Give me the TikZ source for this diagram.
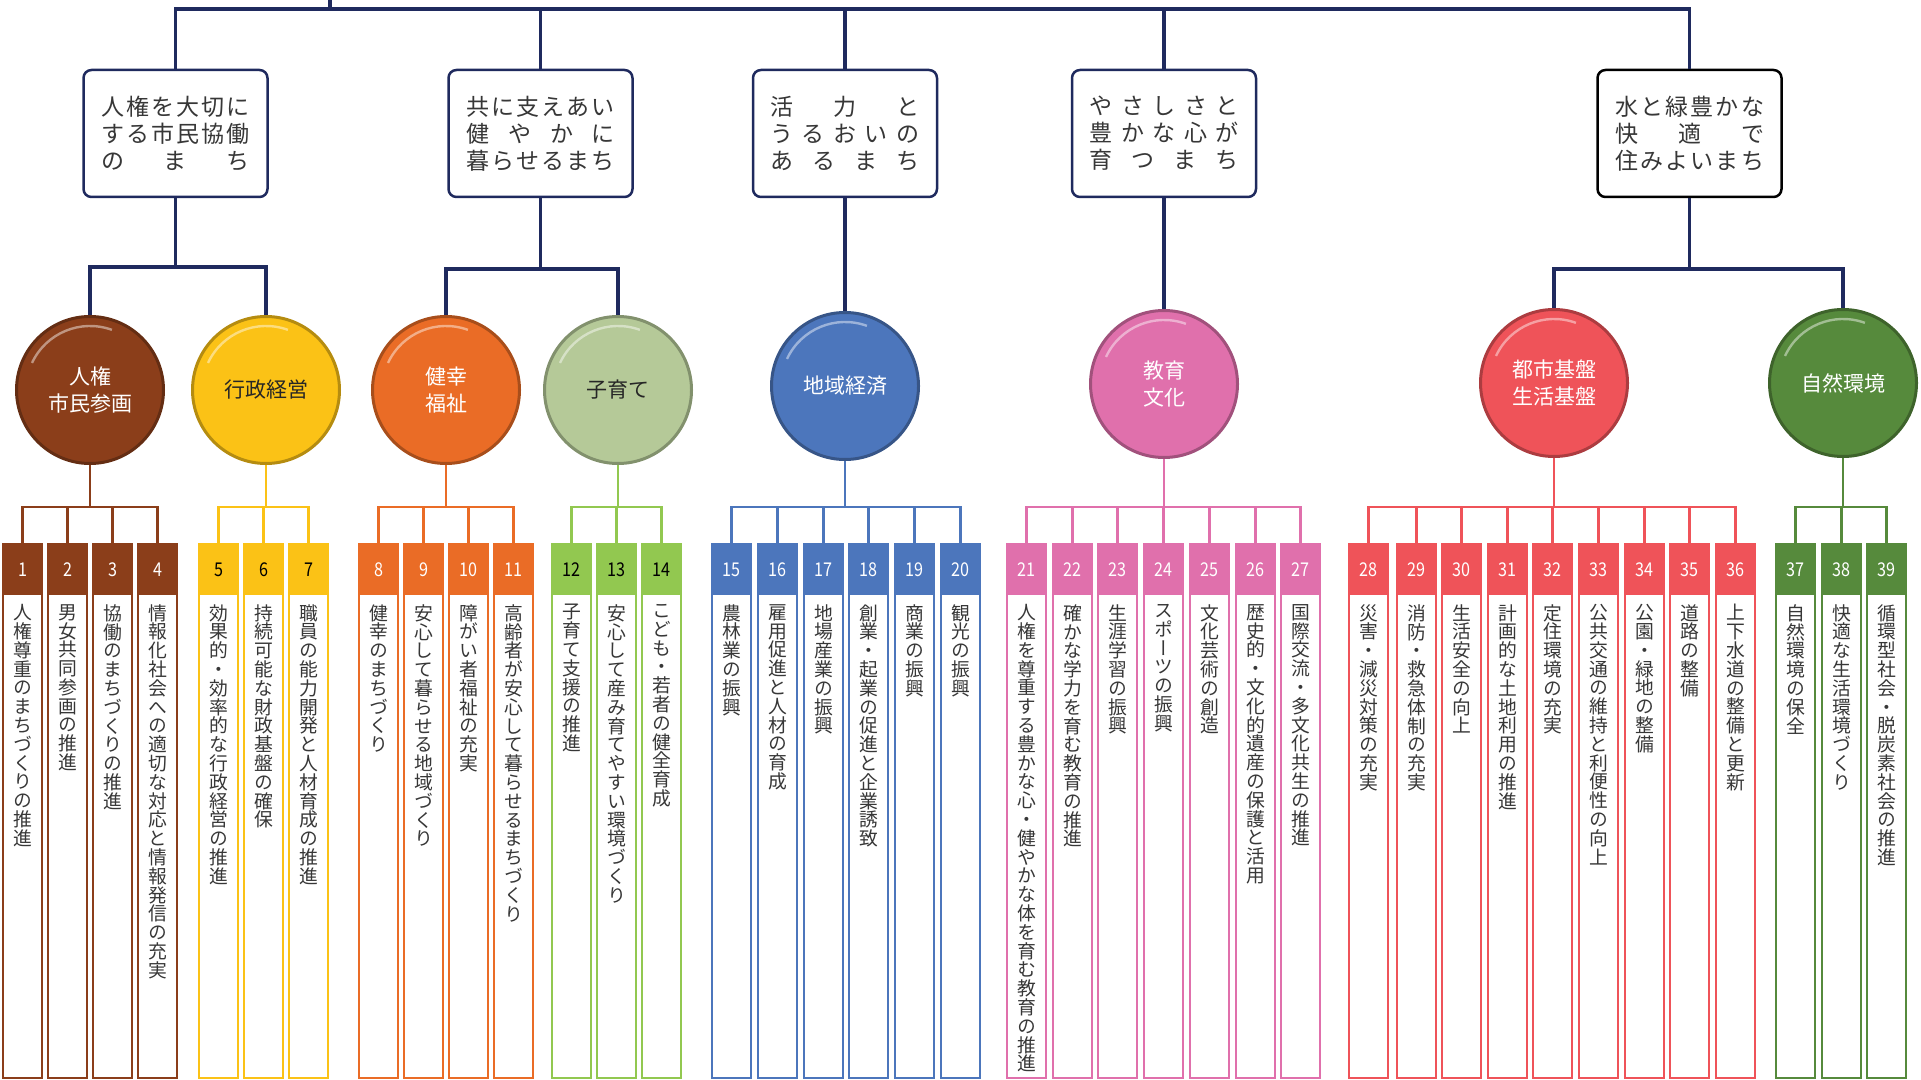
\documentclass[tikz,border=0pt]{standalone}
\usepackage{graphicx}
\usepackage{fontspec}
\setmainfont{Noto Sans CJK JP}
\newfontfamily\tatefont[RawFeature=+vert]{Noto Sans CJK JP}
\usetikzlibrary{calc}

\definecolor{navy}{RGB}{31,42,94}
\definecolor{txtgray}{RGB}{55,55,55}
\definecolor{jinken}{RGB}{139,62,26}
\definecolor{gyosei}{RGB}{251,194,22}
\definecolor{kenko}{RGB}{234,108,38}
\definecolor{kosodate}{RGB}{146,200,80}
\definecolor{kosodateC}{RGB}{181,201,152}
\definecolor{keizai}{RGB}{76,118,188}
\definecolor{kyoiku}{RGB}{224,112,172}
\definecolor{toshi}{RGB}{239,83,89}
\definecolor{shizen}{RGB}{86,138,60}

\makeatletter
\newcommand\spreadline[1]{\makebox[74.5pt][s]{\let\sp@sep\relax\@tfor\sp@ch:=#1\do{\sp@sep\sp@ch\let\sp@sep\hfil}}}
\newcommand\tate[1]{\expandafter\tate@i\expandafter{#1}}
\newcommand\tate@i[1]{\vbox{\baselineskip=9.4pt\lineskiplimit=-\maxdimen\lineskip=0pt\@tfor\sp@ch:=#1\do{\hbox to 9.4pt{\hss\sp@ch\hss}}}}
\makeatother

\begin{document}
\begin{tikzpicture}[x=0.5pt,y=-0.5pt,
  vision/.style={draw=navy, line width=1.25pt, rounded corners=4pt, fill=white, minimum width=92pt, minimum height=63.5pt, inner sep=0pt, align=center, text=txtgray, font=\fontsize{11.5}{13.5}\selectfont},
  goal/.style={circle, fill=#1, draw=#1!72!black, line width=1.5pt, minimum size=73.5pt, inner sep=0pt, align=center, text=white, font=\fontsize{10.5}{13.5}\selectfont},
  pbox/.style={draw=#1, line width=1pt, fill=white, minimum width=19.5pt, minimum height=267pt, inner sep=0pt},
  navyline/.style={draw=navy, line width=1.6pt},
  branch/.style={draw=#1, line width=1.2pt}]
\useasboundingbox (0,0) rectangle (1921,1080);

\node[vision] (v1) at (175.5,133.5) {\spreadline{人権を大切に}\\\spreadline{する市民協働}\\\spreadline{のまち}};
\node[vision] (v2) at (540.5,133.5) {\spreadline{共に支えあい}\\\spreadline{健やかに}\\\spreadline{暮らせるまち}};
\node[vision] (v3) at (845,133.5) {\spreadline{活力と}\\\spreadline{うるおいの}\\\spreadline{あるまち}};
\node[vision] (v4) at (1164,133.5) {\spreadline{やさしさと}\\\spreadline{豊かな心が}\\\spreadline{育つまち}};
\node[vision, draw=black] (v5) at (1689.5,133.5) {\spreadline{水と緑豊かな}\\\spreadline{快適で}\\\spreadline{住みよいまち}};

\node[goal=jinken] (c1) at (90,390) {人権\\市民参画};
\node[goal=gyosei, text=black!85] (c2) at (266,390) {行政経営};
\node[goal=kenko] (c3) at (446,390) {健幸\\福祉};
\node[goal=kosodateC, text=black!85] (c4) at (618,390) {子育て};
\node[goal=keizai] (c5) at (845,386) {地域経済};
\node[goal=kyoiku] (c6) at (1164,384) {教育\\文化};
\node[goal=toshi] (c7) at (1554,383) {都市基盤\\生活基盤};
\node[goal=shizen] (c8) at (1843,383) {自然環境};
\foreach \g in {1,...,8}
  \draw[white, opacity=.45, line width=1.2pt] ([shift={(155:32pt)}]c\g.center) arc[start angle=155, end angle=70, radius=32pt];

% tree above the goals
\coordinate (root) at (330,0);
\coordinate (rootj) at (330,9);
\draw[navyline] (root) -- (rootj);
\draw[navyline] (v1.north) |- (rootj) -| (v5.north);
\foreach \v in {2,3,4}
  \draw[navyline] (v\v.north) -- (v\v.north |- rootj);
\draw[navyline] (v1.south) -- (v1.south |- 0,267) coordinate (j1);
\draw[navyline] (c1.north) |- (j1) -| (c2.north);
\draw[navyline] (v2.south) -- (v2.south |- 0,269) coordinate (j2);
\draw[navyline] (c3.north) |- (j2) -| (c4.north);
\draw[navyline] (v3.south) -- (c5.north);
\draw[navyline] (v4.south) -- (c6.north);
\draw[navyline] (v5.south) -- (v5.south |- 0,269) coordinate (j5);
\draw[navyline] (c7.north) |- (j5) -| (c8.north);

% policies
\foreach \n/\x/\c/\k/\t in {
  1/22.5/jinken/white/人権尊重のまちづくりの推進,
  2/67.5/jinken/white/男女共同参画の推進,
  3/112.5/jinken/white/協働のまちづくりの推進,
  4/157.5/jinken/white/情報化社会への適切な対応と情報発信の充実,
  5/218.5/gyosei/black/効果的・効率的な行政経営の推進,
  6/263.5/gyosei/black/持続可能な財政基盤の確保,
  7/308.5/gyosei/black/職員の能力開発と人材育成の推進,
  8/378.5/kenko/white/健幸のまちづくり,
  9/423.5/kenko/white/安心して暮らせる地域づくり,
  10/468.5/kenko/white/障がい者福祉の充実,
  11/513.5/kenko/white/高齢者が安心して暮らせるまちづくり,
  12/571.5/kosodate/black/子育て支援の推進,
  13/616.5/kosodate/black/安心して産み育てやすい環境づくり,
  14/661.5/kosodate/black/こども・若者の健全育成,
  15/731.5/keizai/white/農林業の振興,
  16/777.5/keizai/white/雇用促進と人材の育成,
  17/823.5/keizai/white/地場産業の振興,
  18/868.5/keizai/white/創業・起業の促進と企業誘致,
  19/914.5/keizai/white/商業の振興,
  20/960.5/keizai/white/観光の振興,
  21/1026.5/kyoiku/white/人権を尊重する豊かな心・健やかな体を育む教育の推進,
  22/1072.5/kyoiku/white/確かな学力を育む教育の推進,
  23/1117.5/kyoiku/white/生涯学習の振興,
  24/1163.5/kyoiku/white/スポーツの振興,
  25/1209.5/kyoiku/white/文化芸術の創造,
  26/1255.5/kyoiku/white/歴史的・文化的遺産の保護と活用,
  27/1300.5/kyoiku/white/国際交流・多文化共生の推進,
  28/1368.5/toshi/white/災害・減災対策の充実,
  29/1416.5/toshi/white/消防・救急体制の充実,
  30/1461.5/toshi/white/生活安全の向上,
  31/1507.5/toshi/white/計画的な土地利用の推進,
  32/1552.5/toshi/white/定住環境の充実,
  33/1598.5/toshi/white/公共交通の維持と利便性の向上,
  34/1644.5/toshi/white/公園・緑地の整備,
  35/1689.5/toshi/white/道路の整備,
  36/1735.5/toshi/white/上下水道の整備と更新,
  37/1795.5/shizen/white/自然環境の保全,
  38/1841.5/shizen/white/快適な生活環境づくり,
  39/1886.5/shizen/white/循環型社会・脱炭素社会の推進} {
  \node[pbox=\c] (p\n) at (\x,811) {};
  \fill[\c] (p\n.north west) rectangle ([yshift=-26pt]p\n.north east);
  \node[text=\k, font=\fontsize{9.5}{9.5}\selectfont, inner sep=0pt] at ([yshift=-13.5pt]p\n.north) {\scalebox{0.85}[1]{\n}};
  \node[anchor=north, inner sep=0pt, text=txtgray, font=\tatefont\fontsize{9.4}{9.4}\selectfont] at ([yshift=-30.5pt]p\n.north) {\tate{\t}};
}

% tree below the goals
\foreach \g/\a/\b/\c in {1/1/4/jinken, 2/5/7/gyosei, 3/8/11/kenko, 4/12/14/kosodate, 5/15/20/keizai, 6/21/27/kyoiku, 7/28/36/toshi, 8/37/39/shizen} {
  \draw[branch=\c] (c\g.south) -- (c\g.south |- 0,507) coordinate (k\g);
  \draw[branch=\c] (p\a.north) |- (k\g) -| (p\b.north);
  \foreach \m in {\a,...,\b}
    \draw[branch=\c] (p\m.north) -- (p\m.north |- k\g);
}
\end{tikzpicture}
\end{document}
